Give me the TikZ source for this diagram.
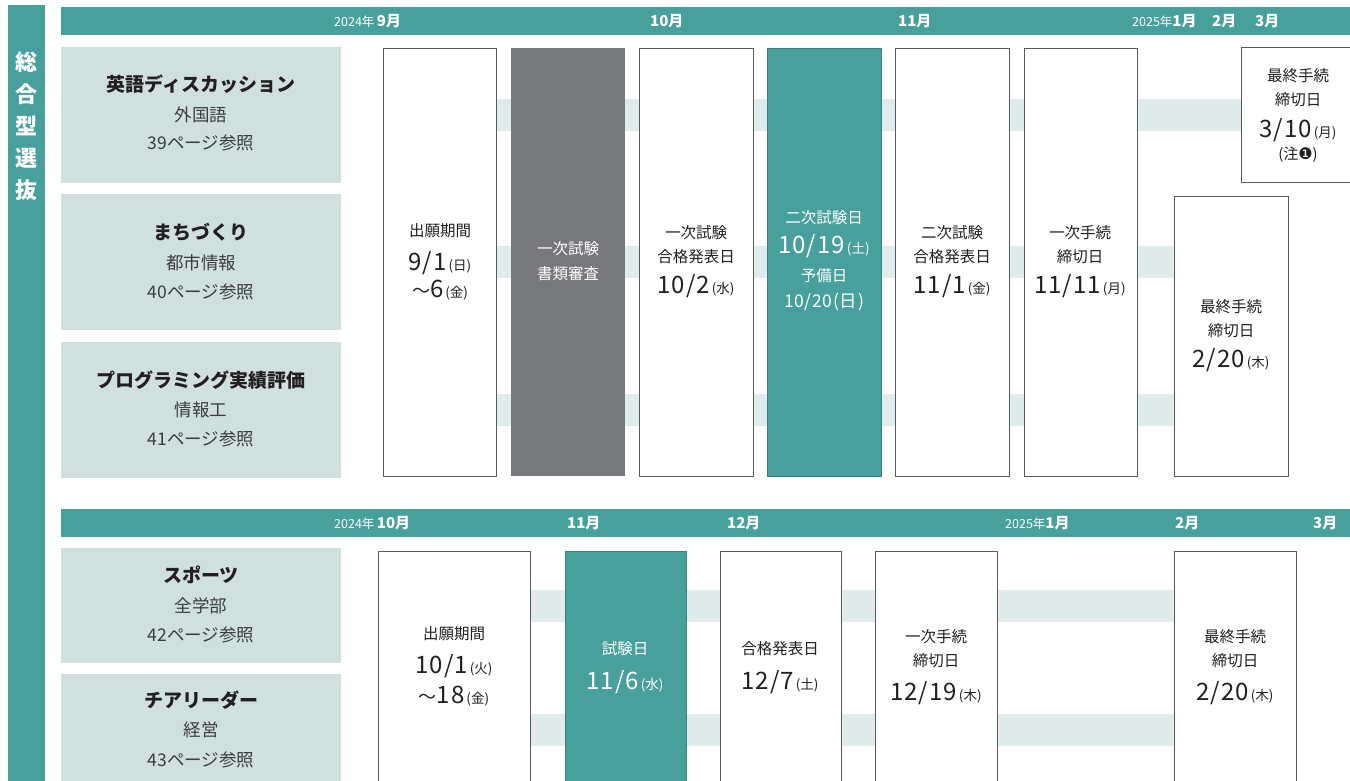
\documentclass[tikz,border=0pt]{standalone}
\usepackage{fontspec}
\setmainfont{Noto Sans CJK JP}
\newfontfamily\numf{Noto Sans CJK JP}[LetterSpace=4]
\newfontfamily\dvs{DejaVu Sans}
\usetikzlibrary{backgrounds}
\definecolor{tealc}{HTML}{48A09D}
\definecolor{lblc}{HTML}{CFE0DF}
\definecolor{bandc}{HTML}{DFECEB}
\definecolor{grayc}{HTML}{77787B}
\definecolor{edgec}{HTML}{5A5A5A}
\definecolor{txtc}{HTML}{231F20}
\definecolor{subc}{HTML}{3C3C3C}
\newcommand\dt[2]{{\numf\fontsize{24}{24}\selectfont #1}{\fontsize{13.5}{13.5}\selectfont\hspace{2pt}(#2)}}
\newcommand\dtt[2]{{\fontsize{18}{18}\selectfont 〜}{\numf\fontsize{24}{24}\selectfont #1}{\fontsize{13.5}{13.5}\selectfont\hspace{2pt}(#2)}}
\newcommand\hy[1]{{\mdseries\fontsize{12.5}{12.5}\selectfont #1}}
\begin{document}
\begin{tikzpicture}[x=1pt,y=-1pt,
  lbl/.style={fill=lblc,anchor=north west,inner sep=0,minimum width=280},
  wbox/.style={draw=edgec,line width=0.8pt,fill=white,anchor=north west,inner sep=0},
  gbox/.style={fill=grayc,anchor=north west,inner sep=0},
  tbox/.style={fill=tealc,draw=tealc!80!black,line width=0.6pt,anchor=north west,inner sep=0},
  bar/.style={fill=tealc,anchor=north west,inner sep=0},
  band/.style={draw=bandc,line width=32pt},
  ttl/.style={font=\fontsize{19}{19}\selectfont\bfseries,text=txtc,inner sep=0},
  sub/.style={font=\fontsize{17.5}{17.5}\selectfont,text=subc,inner sep=0},
  bt/.style={font=\fontsize{15.5}{15.5}\selectfont,text=txtc,inner sep=0},
  wt/.style={bt,text=white},
  mon/.style={font=\fontsize{15}{15}\selectfont\bfseries,text=white,anchor=west,inner sep=0},
]
\useasboundingbox (0,0) rectangle (1350,780);

% side bar and headers
\node[bar,minimum width=37,minimum height=780] (vb) at (8,5) {};
\node[font=\fontsize{22}{32}\selectfont\bfseries,text=white,align=center,inner sep=0] (vt) at (27,126) {総\\合\\型\\選\\抜};
\node[bar,minimum width=1289,minimum height=28] (h1) at (61,7) {};
\node[bar,minimum width=1289,minimum height=28] (h2) at (61,509) {};

\node[mon] (h1a) at (334,21) {\hy{2024年}\,9月};
\node[mon] (h1b) at (650,21) {10月};
\node[mon] (h1c) at (898,21) {11月};
\node[mon] (h1d) at (1132,21) {\hy{2025年}1月};
\node[mon] (h1e) at (1212,21) {2月};
\node[mon] (h1f) at (1255,21) {3月};

\node[mon] (h2a) at (334,523) {\hy{2024年}\,10月};
\node[mon] (h2b) at (567,523) {11月};
\node[mon] (h2c) at (727,523) {12月};
\node[mon] (h2d) at (1005,523) {\hy{2025年}1月};
\node[mon] (h2e) at (1175,523) {2月};
\node[mon] (h2f) at (1313,523) {3月};

% label boxes
\node[lbl,minimum height=136] (l1) at (61,47) {};
\node[lbl,minimum height=136] (l2) at (61,194) {};
\node[lbl,minimum height=136] (l3) at (61,342) {};
\node[lbl,minimum height=115] (m1) at (61,548) {};
\node[lbl,minimum height=112] (m2) at (61,674) {};

\node[ttl] (l1t) at (201,84) {英語ディスカッション};
\node[sub] (l1s) at (201,115) {外国語};
\node[sub] (l1p) at (201,143) {39ページ参照};
\node[ttl] (l2t) at (201,232) {まちづくり};
\node[sub] (l2s) at (201,263) {都市情報};
\node[sub] (l2p) at (201,292) {40ページ参照};
\node[ttl] (l3t) at (201,380) {プログラミング実績評価};
\node[sub] (l3s) at (201,410) {情報工};
\node[sub] (l3p) at (201,439) {41ページ参照};
\node[ttl] (m1t) at (201,575) {スポーツ};
\node[sub] (m1s) at (201,606) {全学部};
\node[sub] (m1p) at (201,635) {42ページ参照};
\node[ttl] (m2t) at (201,700) {チアリーダー};
\node[sub] (m2s) at (201,730) {経営};
\node[sub] (m2p) at (201,760) {43ページ参照};

% row 1 boxes
\node[wbox,minimum width=113,minimum height=428] (a1) at (383,48) {};
\node[gbox,minimum width=114,minimum height=428] (a2) at (511,48) {};
\node[wbox,minimum width=114,minimum height=428] (a3) at (639,48) {};
\node[tbox,minimum width=114,minimum height=428] (a4) at (767,48) {};
\node[wbox,minimum width=114,minimum height=428] (a5) at (895,48) {};
\node[wbox,minimum width=113,minimum height=428] (a6) at (1024,48) {};
\node[wbox,minimum width=114,minimum height=280] (a7) at (1174,196) {};
\node[wbox,minimum width=120,minimum height=135] (a8) at (1241,47) {};

\node[bt] (a1t1) at (440,231) {出願期間};
\node[bt] (a1t2) at (440,263) {\dt{9/1}{日}};
\node[bt] (a1t3) at (440,290) {\dtt{6}{金}};
\node[wt] (a2t1) at (568,249) {一次試験};
\node[wt] (a2t2) at (568,274) {書類審査};
\node[bt] (a3t1) at (696,233) {一次試験};
\node[bt] (a3t2) at (696,257) {合格発表日};
\node[bt] (a3t3) at (696,286) {\dt{10/2}{水}};
\node[wt] (a4t1) at (824,218) {二次試験日};
\node[wt] (a4t2) at (824,246) {\dt{10/19}{土}};
\node[wt] (a4t3) at (824,276) {予備日};
\node[wt,font=\numf\fontsize{17.5}{17.5}\selectfont] (a4t4) at (824,302) {10/20(日)};
\node[bt] (a5t1) at (952,233) {二次試験};
\node[bt] (a5t2) at (952,257) {合格発表日};
\node[bt] (a5t3) at (952,286) {\dt{11/1}{金}};
\node[bt] (a6t1) at (1080,233) {一次手続};
\node[bt] (a6t2) at (1080,257) {締切日};
\node[bt] (a6t3) at (1080,286) {\dt{11/11}{月}};
\node[bt] (a7t1) at (1231,307) {最終手続};
\node[bt] (a7t2) at (1231,331) {締切日};
\node[bt] (a7t3) at (1231,360) {\dt{2/20}{木}};
\node[bt] (a8t1) at (1298,76) {最終手続};
\node[bt] (a8t2) at (1298,100) {締切日};
\node[bt] (a8t3) at (1298,130) {\dt{3/10}{月}};
\node[bt,font=\fontsize{15}{15}\selectfont] (a8t4) at (1298,155) {(注{\dvs\fontsize{16}{16}\selectfont ❶})};

% row 2 boxes
\node[wbox,minimum width=152,minimum height=240] (b1) at (378,551) {};
\node[tbox,minimum width=121,minimum height=240] (b2) at (565,551) {};
\node[wbox,minimum width=121,minimum height=240] (b3) at (720,551) {};
\node[wbox,minimum width=122,minimum height=240] (b4) at (875,551) {};
\node[wbox,minimum width=122,minimum height=240] (b5) at (1174,551) {};

\node[bt] (b1t1) at (454,634) {出願期間};
\node[bt] (b1t2) at (454,666) {\dt{10/1}{火}};
\node[bt] (b1t3) at (454,696) {\dtt{18}{金}};
\node[wt] (b2t1) at (625,649) {試験日};
\node[wt] (b2t2) at (625,682) {\dt{11/6}{水}};
\node[bt] (b3t1) at (780,649) {合格発表日};
\node[bt] (b3t2) at (780,682) {\dt{12/7}{土}};
\node[bt] (b4t1) at (936,637) {一次手続};
\node[bt] (b4t2) at (936,661) {締切日};
\node[bt] (b4t3) at (936,693) {\dt{12/19}{木}};
\node[bt] (b5t1) at (1235,637) {最終手続};
\node[bt] (b5t2) at (1235,661) {締切日};
\node[bt] (b5t3) at (1235,693) {\dt{2/20}{木}};

% connecting bands
\begin{pgfonlayer}{background}
\draw[band] (a1.center |- l1.center) -- (a8.west |- l1.center);
\draw[band] (a1.center |- l2.center) -- (a7.west |- l2.center);
\draw[band] (a1.center |- l3.center) -- (a7.west |- l3.center);
\draw[band] (b1.center |- m1.center) -- (b5.west |- m1.center);
\draw[band] (b1.center |- m2.center) -- (b5.west |- m2.center);
\end{pgfonlayer}
\end{tikzpicture}
\end{document}
